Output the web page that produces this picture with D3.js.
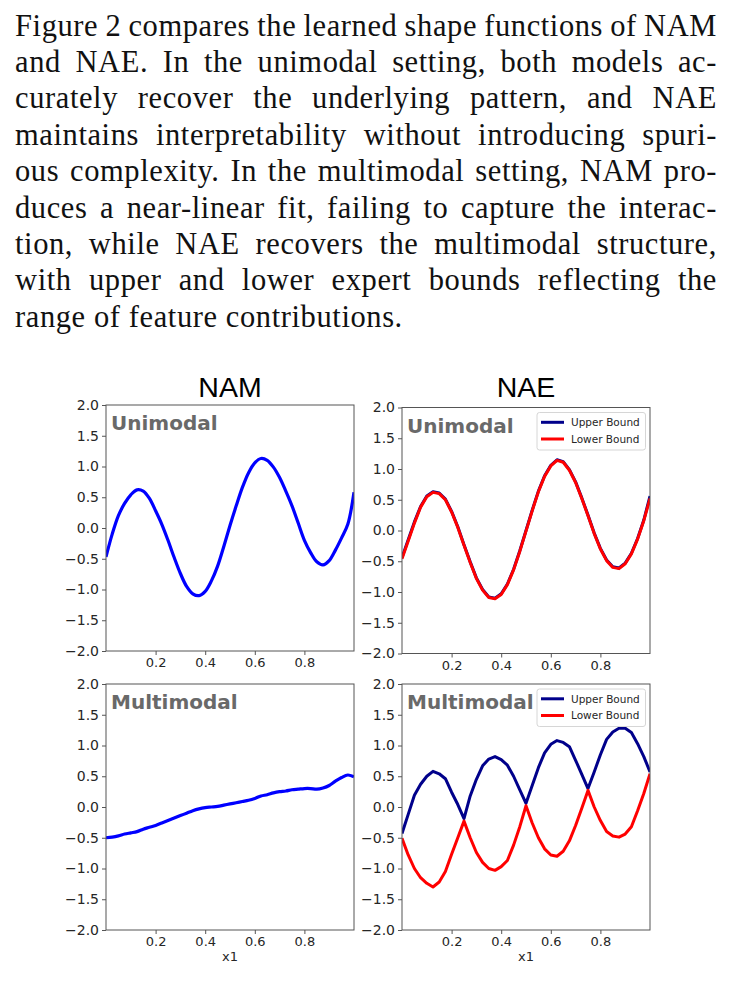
<!DOCTYPE html>
<html>
<head>
<meta charset="utf-8">
<script src="https://cdn.jsdelivr.net/npm/d3@7"></script>
<style>
  body { margin: 0; background: #fff; }
  svg { display: block; }
</style>
</head>
<body>
<svg id="fig"></svg>
<script>
// Paragraph above the figure, one entry per typeset line
const paragraph = [
  "Figure 2 compares the learned shape functions of NAM",
  "and NAE. In the unimodal setting, both models ac-",
  "curately recover the underlying pattern, and NAE",
  "maintains interpretability without introducing spuri-",
  "ous complexity. In the multimodal setting, NAM pro-",
  "duces a near-linear fit, failing to capture the interac-",
  "tion, while NAE recovers the multimodal structure,",
  "with upper and lower expert bounds reflecting the",
  "range of feature contributions."
];

// x1 sample positions
const xValues = [0, 0.025, 0.05, 0.075, 0.1, 0.125, 0.15, 0.175, 0.2, 0.225,
  0.25, 0.275, 0.3, 0.325, 0.35, 0.375, 0.4, 0.425, 0.45, 0.475,
  0.5, 0.525, 0.55, 0.575, 0.6, 0.625, 0.65, 0.675, 0.7, 0.725,
  0.75, 0.775, 0.8, 0.825, 0.85, 0.875, 0.9, 0.925, 0.95, 0.975, 1.0];

// NAM shape functions
const namUni = [-0.47, -0.1, 0.2, 0.4, 0.54, 0.62, 0.6, 0.48, 0.28, 0.06,
  -0.2, -0.48, -0.74, -0.95, -1.07, -1.1, -1.03, -0.86, -0.62, -0.3,
  0.04, 0.36, 0.66, 0.9, 1.06, 1.13, 1.1, 0.99, 0.82, 0.6,
  0.36, 0.08, -0.2, -0.4, -0.55, -0.6, -0.53, -0.36, -0.16, 0.06, 0.58];

const namMulti = [-0.5, -0.49, -0.47, -0.44, -0.42, -0.4, -0.36, -0.33, -0.3, -0.26,
  -0.22, -0.18, -0.14, -0.1, -0.06, -0.03, -0.01, 0.0, 0.01, 0.03,
  0.05, 0.07, 0.09, 0.11, 0.14, 0.18, 0.2, 0.23, 0.25, 0.26,
  0.28, 0.29, 0.3, 0.3, 0.29, 0.31, 0.35, 0.42, 0.48, 0.52, 0.49];

// NAE expert bounds
const naeUniUpper = [-0.44, -0.15, 0.14, 0.39, 0.56, 0.63, 0.61, 0.51, 0.31, 0.06,
  -0.23, -0.51, -0.77, -0.96, -1.08, -1.1, -1.03, -0.87, -0.63, -0.33,
  0.0, 0.33, 0.64, 0.89, 1.06, 1.15, 1.12, 0.99, 0.79, 0.53,
  0.25, -0.04, -0.29, -0.48, -0.59, -0.61, -0.53, -0.37, -0.13, 0.17, 0.56];

const naeUniLower = [-0.46, -0.17, 0.12, 0.38, 0.55, 0.62, 0.6, 0.5, 0.3, 0.05,
  -0.24, -0.52, -0.78, -0.97, -1.09, -1.11, -1.04, -0.88, -0.64, -0.34,
  -0.01, 0.32, 0.63, 0.88, 1.05, 1.14, 1.11, 0.98, 0.78, 0.52,
  0.24, -0.05, -0.3, -0.49, -0.6, -0.62, -0.54, -0.38, -0.14, 0.16, 0.52];

const naeMultiUpper = [-0.43, -0.12, 0.19, 0.37, 0.5, 0.58, 0.54, 0.46, 0.24, 0.04,
  -0.19, 0.18, 0.45, 0.67, 0.78, 0.82, 0.77, 0.68, 0.5, 0.28,
  0.06, 0.35, 0.64, 0.88, 1.02, 1.08, 1.05, 0.98, 0.76, 0.53,
  0.3, 0.57, 0.85, 1.1, 1.22, 1.28, 1.28, 1.21, 1.03, 0.82, 0.57];

const naeMultiLower = [-0.51, -0.78, -1.0, -1.15, -1.24, -1.3, -1.22, -1.05, -0.77, -0.5,
  -0.23, -0.5, -0.74, -0.9, -1.0, -1.03, -0.97, -0.87, -0.62, -0.32,
  0.02, -0.26, -0.5, -0.68, -0.78, -0.8, -0.72, -0.55, -0.3, -0.02,
  0.27, 0.0, -0.22, -0.4, -0.47, -0.49, -0.44, -0.32, -0.06, 0.22, 0.54];

// Axis ticks and labels
const yTicks = [-2.0, -1.5, -1.0, -0.5, 0.0, 0.5, 1.0, 1.5, 2.0];
const xTicks = [0.2, 0.4, 0.6, 0.8];
const columnTitles = ["NAM", "NAE"];
const settingLabels = ["Unimodal", "Multimodal"];
const legendLabels = ["Upper Bound", "Lower Bound"];
const xLabel = "x1";

const W = 733, H = 985;
const plotW = 248, plotH = 246;

const svg = d3.select("#fig").attr("width", W).attr("height", H);

// ---- paragraph, justified line by line ----
const textLeft = 15, textRight = 717, firstBase = 35.5, lineStep = 36.4;
const para = svg.append("g")
  .attr("font-family", "'Liberation Serif', 'Times New Roman', serif")
  .attr("font-size", 30.5)
  .attr("fill", "#111")
  .style("letter-spacing", "0.6px");

paragraph.forEach((line, i) => {
  const t = para.append("text")
    .attr("x", textLeft)
    .attr("y", firstBase + i * lineStep)
    .style("white-space", "pre")
    .text(line);
  if (i < paragraph.length - 1) {
    const natural = t.node().getComputedTextLength();
    const spaces = line.split(" ").length - 1;
    t.style("word-spacing", ((textRight - textLeft - natural) / spaces) + "px");
  }
});

// ---- panels ----
const panels = [
  { left: 106, top: 405,   row: 0, col: 0, series: [{ values: namUni, color: "#0000ff" }] },
  { left: 402, top: 407.5, row: 0, col: 1, series: [{ values: naeUniUpper, color: "#00008b" }, { values: naeUniLower, color: "#ff0000" }] },
  { left: 106, top: 684,   row: 1, col: 0, series: [{ values: namMulti, color: "#0000ff" }] },
  { left: 402, top: 684,   row: 1, col: 1, series: [{ values: naeMultiUpper, color: "#00008b" }, { values: naeMultiLower, color: "#ff0000" }] }
];

panels.forEach((p, k) => {
  const x = d3.scaleLinear().domain([0, 1]).range([p.left, p.left + plotW]);
  const y = d3.scaleLinear().domain([-2, 2]).range([p.top + plotH, p.top]);
  const g = svg.append("g");

  // clip
  g.append("clipPath").attr("id", "clip" + k)
    .append("rect")
    .attr("x", p.left).attr("y", p.top)
    .attr("width", plotW).attr("height", plotH);

  // axes
  const yAxis = g.append("g")
    .attr("transform", `translate(${p.left},0)`)
    .call(d3.axisLeft(y).tickValues(yTicks).tickFormat(d3.format(".1f")).tickSize(4).tickPadding(3));
  const xAxis = g.append("g")
    .attr("transform", `translate(0,${p.top + plotH})`)
    .call(d3.axisBottom(x).tickValues(xTicks).tickFormat(d3.format(".1f")).tickSize(4).tickPadding(3));
  [[yAxis, 14], [xAxis, 13]].forEach(([a, fs]) => {
    a.select(".domain").remove();
    a.selectAll(".tick line").attr("stroke", "#555");
    a.selectAll(".tick text")
      .attr("fill", "#262626")
      .attr("font-family", "'DejaVu Sans', sans-serif")
      .attr("font-size", fs);
  });

  // lines
  const line = d3.line()
    .x((d, i) => x(xValues[i]))
    .y(d => y(d))
    .curve(p.col === 0 ? d3.curveCatmullRom : d3.curveLinear);

  g.append("g").attr("clip-path", `url(#clip${k})`)
    .selectAll("path")
    .data(p.series)
    .enter()
    .append("path")
    .attr("d", s => line(s.values))
    .attr("fill", "none")
    .attr("stroke", s => s.color)
    .attr("stroke-width", p.col === 0 ? 3.2 : 3)
    .attr("stroke-linejoin", "round");

  // frame
  g.append("rect")
    .attr("x", p.left).attr("y", p.top)
    .attr("width", plotW).attr("height", plotH)
    .attr("fill", "none")
    .attr("stroke", "#555")
    .attr("stroke-width", 1);

  // setting label
  g.append("text")
    .attr("x", p.left + 5)
    .attr("y", p.top + 25)
    .attr("font-family", "'DejaVu Sans', sans-serif")
    .attr("font-weight", "bold")
    .attr("font-size", 20)
    .attr("fill", "#696969")
    .text(settingLabels[p.row]);

  // column title
  if (p.row === 0) {
    g.append("text")
      .attr("x", p.left + plotW / 2)
      .attr("y", 397)
      .attr("text-anchor", "middle")
      .attr("font-family", "'Liberation Sans', Arial, sans-serif")
      .attr("font-size", 28.5)
      .attr("fill", "#000")
      .text(columnTitles[p.col]);
  }

  // x label
  if (p.row === 1) {
    g.append("text")
      .attr("x", p.left + plotW / 2)
      .attr("y", p.top + plotH + 31)
      .attr("text-anchor", "middle")
      .attr("font-family", "'DejaVu Sans', sans-serif")
      .attr("font-size", 13)
      .attr("fill", "#262626")
      .text(xLabel);
  }

  // legend
  if (p.col === 1) {
    const lg = g.append("g").attr("transform", `translate(${p.left + 135},${p.top + 5})`);
    lg.append("rect")
      .attr("width", 108.5).attr("height", 37.5)
      .attr("rx", 2.5)
      .attr("fill", "#fff").attr("fill-opacity", 0.85)
      .attr("stroke", "#d6d6d6");
    p.series.forEach((s, j) => {
      const yy = 9.8 + j * 16.7;
      lg.append("line")
        .attr("x1", 4).attr("x2", 27)
        .attr("y1", yy).attr("y2", yy)
        .attr("stroke", s.color).attr("stroke-width", 3);
      lg.append("text")
        .attr("x", 34).attr("y", yy + 3.8)
        .attr("font-family", "'DejaVu Sans', sans-serif")
        .attr("font-size", 10.5)
        .attr("fill", "#262626")
        .text(legendLabels[j]);
    });
  }
});
</script>
</body>
</html>
